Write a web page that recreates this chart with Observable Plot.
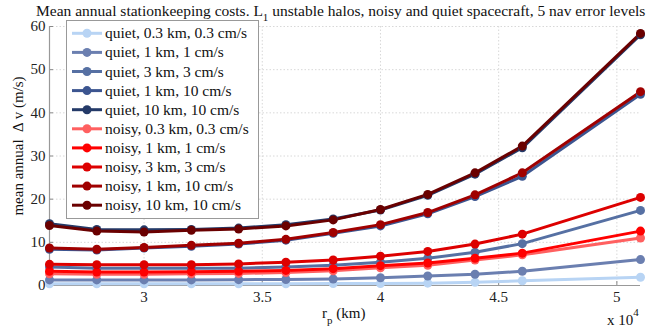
<!DOCTYPE html>
<html>
<head>
<meta charset="utf-8">
<script src="https://cdn.jsdelivr.net/npm/d3@7"></script>
<script src="https://cdn.jsdelivr.net/npm/@observablehq/plot@0.6"></script>
<style>
  body { margin: 0; background: #fff; }
  #chart { position: relative; width: 652px; height: 332px; }
  svg { font-family: "Liberation Serif", "Times New Roman", serif; }
</style>
</head>
<body>
<div id="chart"></div>
<script>
// ---- data ----
const rp = [26000, 28000, 30000, 32000, 34000, 36000, 38000, 40000, 42000, 44000, 46000, 51000];

const seriesNames = [
  "quiet, 0.3 km, 0.3 cm/s",
  "quiet, 1 km, 1 cm/s",
  "quiet, 3 km, 3 cm/s",
  "quiet, 1 km, 10 cm/s",
  "quiet, 10 km, 10 cm/s",
  "noisy, 0.3 km, 0.3 cm/s",
  "noisy, 1 km, 1 cm/s",
  "noisy, 3 km, 3 cm/s",
  "noisy, 1 km, 10 cm/s",
  "noisy, 10 km, 10 cm/s"
];
const seriesColors = [
  "#b8d4f4", "#6b7fb0", "#5670a3", "#3c5590", "#243a68",
  "#ff6060", "#ff0000", "#dd0000", "#a00000", "#6a0000"
];

const quiet03_03 = [0.4, 0.4, 0.4, 0.4, 0.4, 0.4, 0.45, 0.45, 0.55, 0.75, 1.1, 1.9];
const quiet1_1   = [1.3, 1.3, 1.3, 1.3, 1.35, 1.4, 1.5, 1.8, 2.2, 2.6, 3.3, 6.0];
const quiet3_3   = [4.3, 4.0, 4.0, 4.0, 4.0, 4.3, 4.7, 5.4, 6.3, 7.7, 9.7, 17.4];
const quiet1_10  = [8.4, 8.2, 8.7, 9.1, 9.6, 10.5, 12.1, 13.8, 16.6, 20.6, 25.3, 44.3];
const quiet10_10 = [14.3, 13.0, 12.9, 13.0, 13.3, 14.1, 15.4, 17.5, 20.9, 25.8, 31.9, 58.1];
const noisy03_03 = [2.7, 2.6, 2.6, 2.7, 2.8, 3.0, 3.4, 4.1, 4.7, 5.9, 7.1, 11.0];
const noisy1_1   = [3.3, 3.1, 3.1, 3.2, 3.3, 3.5, 3.9, 4.6, 5.2, 6.3, 7.5, 12.6];
const noisy3_3   = [4.9, 4.8, 4.8, 4.8, 5.0, 5.4, 5.9, 6.8, 7.9, 9.6, 11.9, 20.4];
const noisy1_10  = [8.7, 8.4, 8.8, 9.3, 9.8, 10.7, 12.3, 14.1, 16.9, 21.0, 26.1, 44.9];
const noisy10_10 = [13.9, 12.6, 12.4, 12.8, 13.1, 13.8, 15.2, 17.6, 21.1, 26.1, 32.3, 58.4];

const xTicks = [30000, 35000, 40000, 45000, 50000];
const yTicks = [0, 10, 20, 30, 40, 50, 60];

const titleMain = "Mean annual stationkeeping costs. L";
const titleSub = "1";
const titleRest = " unstable halos, noisy and quiet spacecraft, 5 nav error levels";
const yLabel = "mean annual  \u0394 v (m/s)";

// ---- table ----
const allValues = [quiet03_03, quiet1_1, quiet3_3, quiet1_10, quiet10_10,
                   noisy03_03, noisy1_1, noisy3_3, noisy1_10, noisy10_10];
const table = [];
allValues.forEach((vals, i) => {
  vals.forEach((v, j) => table.push({series: seriesNames[i], x: rp[j], y: v}));
});

const W = 652, H = 332;
const mL = 49, mR = 12, mT = 26, mB = 47;

const plot = Plot.plot({
  width: W, height: H,
  marginLeft: mL, marginRight: mR, marginTop: mT, marginBottom: mB,
  style: {fontFamily: "Liberation Serif, Times New Roman, serif", fontSize: "15px", background: "white", overflow: "visible"},
  x: {domain: [26000, 51000]},
  y: {domain: [0, 60]},
  color: {domain: seriesNames, range: seriesColors},
  marks: [
    Plot.gridX(xTicks, {stroke: "#d8d8d8", strokeOpacity: 1, strokeDasharray: "1.5,2"}),
    Plot.gridY(yTicks.filter(d => d > 0), {stroke: "#d8d8d8", strokeOpacity: 1, strokeDasharray: "1.5,2"}),
    Plot.axisX(xTicks, {tickSize: -4, tickPadding: 10, stroke: "#888", fill: "#222", tickFormat: d => String(d / 1e4), label: null}),
    Plot.axisY(yTicks, {tickSize: -4, tickPadding: 8, stroke: "#888", fill: "#222", label: null}),
    Plot.ruleX([26000], {stroke: "#999", strokeWidth: 1.2}),
    Plot.ruleY([0], {stroke: "#999", strokeWidth: 1.2}),
    Plot.line(table, {x: "x", y: "y", z: "series", stroke: "series", strokeWidth: 3, curve: "linear"}),
    Plot.dot(table, {x: "x", y: "y", fill: "series", r: 4.5})
  ]
});

document.getElementById("chart").appendChild(plot);

// ---- overlay texts & legend ----
const svg = d3.select(plot);

const t = svg.append("text")
  .attr("x", 36).attr("y", 16).attr("text-anchor", "start")
  .attr("font-size", 15.5).attr("fill", "#111");
t.append("tspan").text(titleMain);
t.append("tspan").attr("dy", 5).attr("font-size", 11).text(titleSub);
t.append("tspan").attr("dy", -5).text(titleRest);

svg.append("text")
  .attr("transform", "translate(23,146) rotate(-90)")
  .attr("text-anchor", "middle")
  .attr("font-size", 15)
  .attr("fill", "#111")
  .style("white-space", "pre")
  .attr("xml:space", "preserve")
  .text(yLabel);

const xl = svg.append("text").attr("x", 322).attr("y", 318).attr("text-anchor", "start").attr("font-size", 15).attr("fill", "#111");
xl.append("tspan").text("r");
xl.append("tspan").attr("dy", 6).attr("font-size", 11).text("p");
xl.append("tspan").attr("dy", -6).text(" (km)");

const ex = svg.append("text").attr("x", 607).attr("y", 325).attr("text-anchor", "start").attr("font-size", 15).attr("fill", "#111");
ex.append("tspan").text("x 10");
ex.append("tspan").attr("dy", -9).attr("font-size", 11).text("4");

// legend
const lg = svg.append("g");
lg.append("rect").attr("x", 66.5).attr("y", 20.5).attr("width", 192).attr("height", 198)
  .attr("fill", "white").attr("stroke", "#999").attr("stroke-width", 1);
seriesNames.forEach((name, i) => {
  const cy = 33.3 + i * 19.1;
  lg.append("line").attr("x1", 72).attr("x2", 102).attr("y1", cy).attr("y2", cy)
    .attr("stroke", seriesColors[i]).attr("stroke-width", 3);
  lg.append("circle").attr("cx", 87).attr("cy", cy).attr("r", 4.5).attr("fill", seriesColors[i]);
  lg.append("text").attr("x", 105).attr("y", cy + 5).attr("text-anchor", "start")
    .attr("font-size", 15.5).attr("fill", "#111").text(name);
});
</script>
</body>
</html>
